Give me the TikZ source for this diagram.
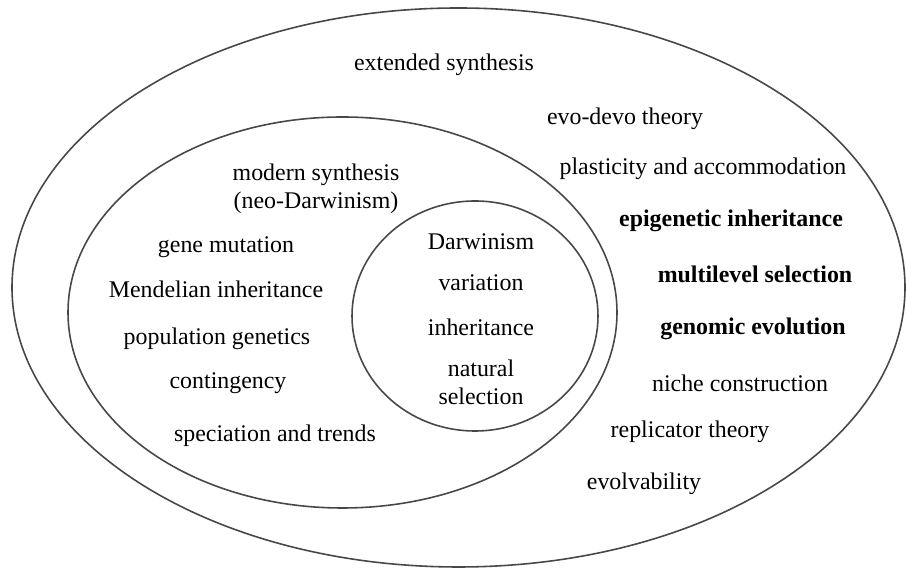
\documentclass[tikz,border=0pt]{standalone}
\usepackage{fontspec}
\setmainfont{Liberation Serif}
\usetikzlibrary{positioning}

\begin{document}
\begin{tikzpicture}[font=\fontsize{13.6}{16}\selectfont,
  ring/.style={draw=black!72,line width=0.9pt},
  lbl/.style={anchor=base,inner sep=0pt},
  keylbl/.style={lbl,font=\fontsize{13.6}{16}\selectfont\bfseries}]
\useasboundingbox (0,0) rectangle (18.12,11.38);
\fill[white] (0,0) rectangle (18.12,11.38);

% the three nested syntheses
\draw[ring] (9.17,5.63) ellipse [x radius=8.93,y radius=5.59];
\draw[ring] (6.85,5.13) ellipse [x radius=5.49,y radius=3.91];
\draw[ring] (9.50,5.06) ellipse [x radius=2.46,y radius=2.30];

% extended synthesis
\node[lbl] (ext) at (8.88,9.96) {extended synthesis};
\node[lbl] (evodevo) at (12.50,8.88) {evo-devo theory};
\node[lbl] (plast) at (14.06,7.88) {plasticity and accommodation};
\node[keylbl] (epi) at (14.62,6.84) {epigenetic inheritance};
\node[keylbl] (multi) at (15.10,5.72) {multilevel selection};
\node[keylbl] (genom) at (15.06,4.68) {genomic evolution};
\node[lbl] (niche) at (14.80,3.54) {niche construction};
\node[lbl] (repl) at (13.80,2.62) {replicator theory};
\node[lbl] (evolv) at (12.88,1.58) {evolvability};

% modern synthesis
\node[lbl] (modern) at (6.32,7.76) {modern synthesis};
\node[lbl] (neo) at (6.32,7.20) {(neo-Darwinism)};
\node[lbl] (gene) at (4.52,6.32) {gene mutation};
\node[lbl] (mendel) at (4.32,5.42) {Mendelian inheritance};
\node[lbl] (popgen) at (4.34,4.48) {population genetics};
\node[lbl] (conting) at (4.56,3.60) {contingency};
\node[lbl] (spec) at (5.50,2.54) {speciation and trends};

% Darwinism
\node[lbl] (darwin) at (9.62,6.38) {Darwinism};
\node[lbl] (var) at (9.62,5.56) {variation};
\node[lbl] (inher) at (9.62,4.66) {inheritance};
\node[lbl] (nat) at (9.62,3.84) {natural};
\node[lbl] (sel) at (9.62,3.28) {selection};

\end{tikzpicture}
\end{document}
